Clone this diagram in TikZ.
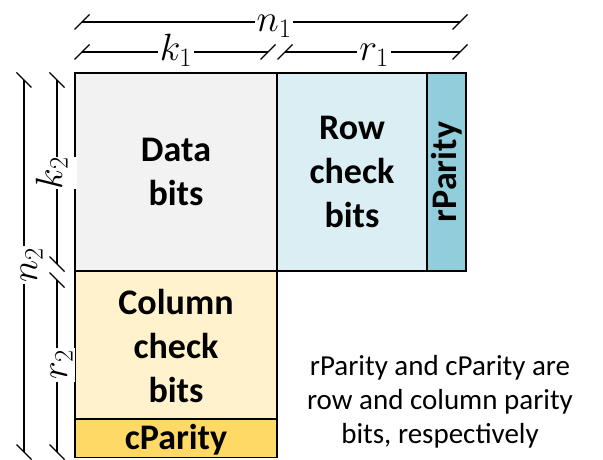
\RequirePackage{fix-cm}
\documentclass[tikz,border=0pt]{standalone}
\usepackage{fontspec}
\setmainfont{Carlito}
\definecolor{datafill}{HTML}{F2F2F2}
\definecolor{rowfill}{HTML}{DAEEF3}
\definecolor{rparfill}{HTML}{92CDDC}
\definecolor{colfill}{HTML}{FFF2CC}
\definecolor{cparfill}{HTML}{FFD966}
\begin{document}
\begin{tikzpicture}[x=1pt,y=-1pt,
  cell/.style={draw=black, line width=1.7pt},
  celltext/.style={font=\fontsize{36}{44}\selectfont\bfseries, align=center, inner sep=0pt},
  dimline/.style={line width=1.1pt, black},
  dimlabel/.style={fill=white, inner sep=2pt, anchor=base, font=\fontsize{38}{40}\selectfont},
  note/.style={font=\fontsize{29}{34}\selectfont, align=center, inner sep=0pt}]
\useasboundingbox (0,0) rectangle (603,460);

% code blocks
\draw[cell, fill=datafill] (75,73) rectangle (277,271);
\draw[cell, fill=rowfill]  (277,73) rectangle (427,271);
\draw[cell, fill=rparfill] (427,73) rectangle (466,271);
\draw[cell, fill=colfill]  (75,271) rectangle (277,419);
\draw[cell, fill=cparfill] (75,419) rectangle (277,457.5);

\node[celltext] (data) at (176,172) {Data\\bits};
\node[celltext] (row) at (352,172) {Row\\check\\bits};
\node[celltext, rotate=90] (rpar) at (447,172) {rParity};
\node[celltext] (col) at (176,346) {Column\\check\\bits};
\node[celltext, anchor=base] (cpar) at (176,449) {cParity};

% horizontal dimensions
\coordinate (n1L) at (82,22);  \coordinate (n1R) at (460,22);
\coordinate (k1L) at (82,52);  \coordinate (k1R) at (268,52);
\coordinate (r1L) at (285,52); \coordinate (r1R) at (460,52);
\draw[dimline] (n1L) -- (n1R);
\draw[dimline] (k1L) -- (k1R);
\draw[dimline] (r1L) -- (r1R);
\foreach \p in {n1L,n1R,k1L,k1R,r1L,r1R}
  \draw[dimline] (\p) ++(-7.5,7.5) -- ++(15,-15);

% vertical dimensions
\coordinate (n2T) at (24,80);  \coordinate (n2B) at (24,452);
\coordinate (k2T) at (57,80);  \coordinate (k2B) at (57,264);
\coordinate (r2T) at (57,280); \coordinate (r2B) at (57,452);
\draw[dimline] (n2T) -- (n2B);
\draw[dimline] (k2T) -- (k2B);
\draw[dimline] (r2T) -- (r2B);
\foreach \p in {n2T,n2B,k2T,k2B,r2T,r2B}
  \draw[dimline] (\p) ++(-7.5,-7.5) -- ++(15,15);

% gap behind k2, reaching over the left border of the data block
\fill[white] (38,156.5) rectangle (76.5,188.5);

% dimension labels
\node[dimlabel] (n1) at (274,32) {$n_1$};
\node[dimlabel] (k1) at (176,61) {$k_1$};
\node[dimlabel] (r1) at (374,61) {$r_1$};
\node[dimlabel, rotate=90] (n2) at (37,265) {$n_2$};
\node[dimlabel, rotate=90, fill=none] (k2) at (62,173) {$k_2$};
\node[dimlabel, rotate=90] (r2) at (67,365) {$r_2$};

% explanatory note
\node[note] (legend) at (440,402) {rParity and cParity are\\row and column parity\\bits, respectively};
\end{tikzpicture}
\end{document}
